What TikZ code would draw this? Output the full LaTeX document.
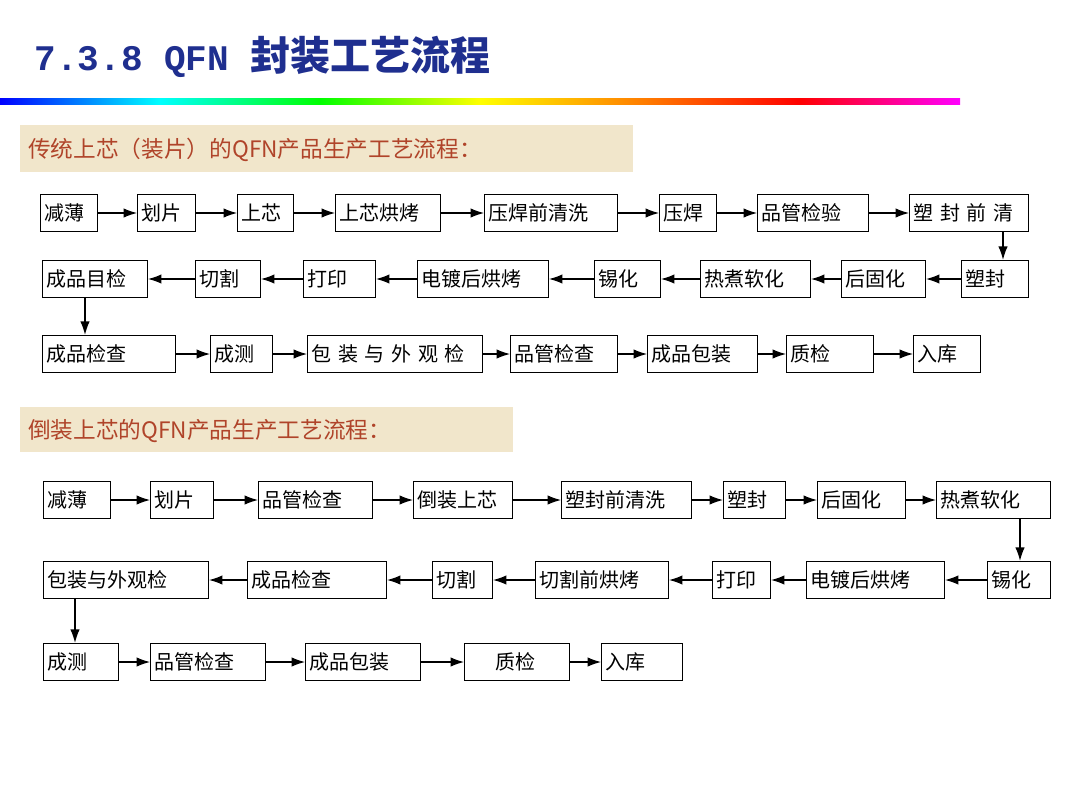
\documentclass[tikz,border=0pt]{standalone}
\usepackage{fontspec}
\setmainfont{Noto Sans CJK SC}
\newfontfamily\monofont{Liberation Mono}
\usetikzlibrary{arrows.meta}
\definecolor{titleBlue}{HTML}{1F2F8F}
\definecolor{headRed}{HTML}{B0442A}
\definecolor{headBg}{HTML}{F1E6CB}

\tikzset{
  box/.style = {draw, thick, anchor=west, inner sep=3pt, align=left, minimum height=28pt, font=\fontsize{15}{17}\selectfont},
  arr/.style = {-{Latex[length=10pt,width=7pt]}, thick},
  head/.style = {fill=headBg, anchor=west, text=headRed, font=\fontsize{17}{19}\selectfont, inner sep=0pt}
}

% one row: name prefix, y centre, list of x1/x2/text
\newcommand{\flowrow}[3]{%
  \foreach \a/\b/\t [count=\i, remember=\i as \j (initially 0)] in {#3} {
    \pgfmathsetmacro\w{(\b-\a)*0.75}
    \pgfmathsetmacro\tw{\w-6}
    \node[box, minimum width=\w pt, text width=\tw pt] (#1\i) at (\a,#2) {\t};
    \ifnum\j>0 \draw[arr] (#1\j) -- (#1\i); \fi
  }}

\begin{document}
\begin{tikzpicture}[x=0.75pt, y=-0.75pt]
	\useasboundingbox (0,0) rectangle (1080,810);
	
	% Titel
	\node[anchor=west, text=titleBlue, font=\fontsize{27}{30}\selectfont\bfseries] (title) at (30,57)
	  {{\monofont 7.3.8 QFN }{\fontsize{30}{32}\selectfont 封装工艺流程}};
	\foreach \xa/\xb/\ca/\cb in {0/160/blue/cyan, 160/320/cyan/green, 320/480/green/yellow,
	  480/640/yellow/orange, 640/800/orange/red, 800/960/red/magenta}
	  \shade[left color=\ca, right color=\cb] (\xa,98) rectangle (\xb,104);
	
	% Teil 1
	\fill[headBg] (20,125) rectangle (633,172);
	\node[head] (h1) at (28,150) {传统上芯（装片）的QFN产品生产工艺流程：};
	\flowrow{a}{213}{40/97/减薄, 137/195/划片, 237/293/上芯, 335/440/上芯烘烤, 484/617/压焊前清洗,
	  659/716/压焊, 757/868/品管检验, 909/1028/塑 封 前 清}
	\flowrow{b}{279}{961/1028/塑封, 841/925/后固化, 700/810/热煮软化, 594/660/锡化,
	  417/548/电镀后烘烤, 303/375/打印, 195/260/切割, 42/147/成品目检}
	\flowrow{c}{354}{42/175/成品检查, 210/272/成测, 307/482/包 装 与 外 观 检, 510/617/品管检查,
	  647/757/成品包装, 786/873/质检, 913/980/入库}
	\draw[arr] (a8.south -| 1003,0) -- (b1.north -| 1003,0);
	\draw[arr] (b8.south -| 85,0) -- (c1.north -| 85,0);
	
	% Teil 2
	\fill[headBg] (20,407) rectangle (513,452);
	\node[head] (h2) at (28,431) {倒装上芯的QFN产品生产工艺流程：};
	\flowrow{d}{500}{43/110/减薄, 150/213/划片, 258/372/品管检查, 413/512/倒装上芯,
	  561/691/塑封前清洗, 723/785/塑封, 817/905/后固化, 936/1050/热煮软化}
	\flowrow{e}{580}{987/1050/锡化, 806/944/电镀后烘烤, 712/770/打印, 535/668/切割前烘烤,
	  432/492/切割, 247/386/成品检查, 43/208/包装与外观检}
	\flowrow{f}{662}{43/118/成测, 150/265/品管检查, 305/420/成品包装, 464/569/\hspace{20pt}质检, 601/682/入库}
	\draw[arr] (d8.south -| 1020,0) -- (e1.north -| 1020,0);
	\draw[arr] (e7.south -| 75,0) -- (f1.north -| 75,0);
	
\end{tikzpicture}
\end{document}
